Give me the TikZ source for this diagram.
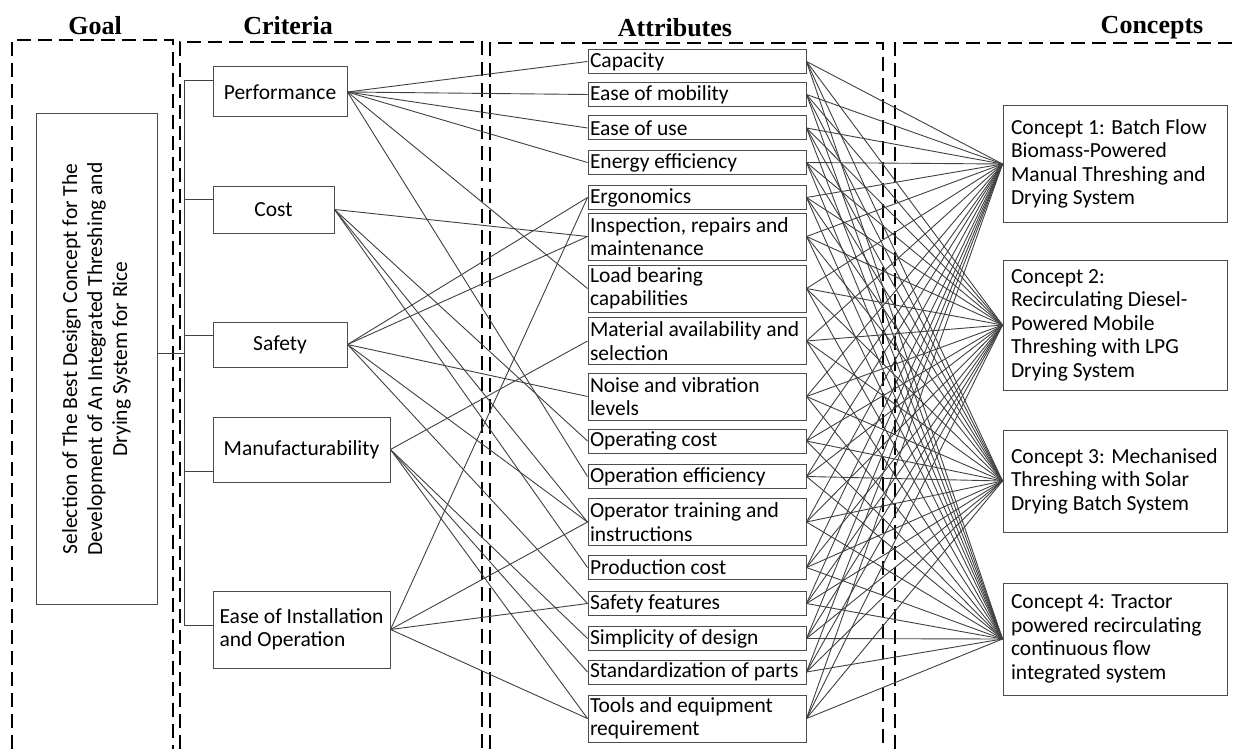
\documentclass[tikz,border=0pt]{standalone}
\usepackage{fontspec}
\setmainfont{Carlito}
\newfontfamily\headfont{Liberation Serif}
\begin{document}
\begin{tikzpicture}[x=1pt, y=-1pt,
    box/.style={rectangle, draw=black!70, line width=1pt, inner sep=1pt, font=\fontsize{21.5}{23.5}\selectfont},
    crit/.style={box, align=center},
    attr/.style={box, text width=214pt, align=flush left, inner xsep=2pt},
    concept/.style={box, text width=208pt, align=flush left, inner xsep=8pt},
    head/.style={font=\headfont\bfseries\fontsize{26}{28}\selectfont},
    frame/.style={line width=2.2pt, dash pattern=on 14pt off 7pt},
    link/.style={line width=0.9pt, black!75}
]
    \useasboundingbox (0,0) rectangle (1239,749);

    \node[head] (goalhead) at (95,26) {Goal};
    \node[head] (crithead) at (288,26) {Criteria};
    \node[head] (attrhead) at (675,28) {Attributes};
    \node[head] (conhead) at (1152,28) {Concepts};

    \draw[frame] (12,749) |- (173,40) -- (173,749);
    \draw[frame] (180,749) |- (482,42) -- (482,749);
    \draw[frame] (490,749) |- (883,43) -- (883,749);
    \draw[frame] (895,749) |- (1245,43);

    \node[box, rotate=90, minimum width=490pt, minimum height=121pt, align=center, font=\fontsize{21.5}{25}\selectfont] (goal) at (96.5,359) {Selection of The Best Design Concept for The\\Development of An Integrated Threshing and\\Drying System for Rice};

    \node[crit, minimum width=134pt, minimum height=50pt] (perf) at (280,92) {Performance};
    \node[crit, minimum width=121pt, minimum height=47pt] (cost) at (273.5,209.5) {Cost};
    \node[crit, minimum width=134pt, minimum height=45pt] (safety) at (280,344.5) {Safety};
    \node[crit, minimum width=177pt, minimum height=65pt] (manuf) at (301.5,449.5) {Manufacturability};
    \node[crit, minimum width=177pt, minimum height=77pt, align=left] (ease) at (301.5,629.5) {Ease of Installation\\and Operation};

    \node[attr, minimum height=24pt] (cap) at (697,61.5) {Capacity};
    \node[attr, minimum height=24pt] (mob) at (697,94.5) {Ease of mobility};
    \node[attr, minimum height=24pt] (use) at (697,128) {Ease of use};
    \node[attr, minimum height=24pt] (energy) at (697,162.5) {Energy efficiency};
    \node[attr, minimum height=24pt] (ergo) at (697,197.5) {Ergonomics};
    \node[attr, minimum height=47pt] (insp) at (697,236.5) {Inspection, repairs and\\maintenance};
    \node[attr, minimum height=47pt] (load) at (697,288.5) {Load bearing\\capabilities};
    \node[attr, minimum height=47pt] (mat) at (697,341) {Material availability and\\selection};
    \node[attr, minimum height=47pt] (noise) at (697,396.5) {Noise and vibration\\levels};
    \node[attr, minimum height=24pt] (opcost) at (697,441) {Operating cost};
    \node[attr, minimum height=24pt] (opeff) at (697,476.5) {Operation efficiency};
    \node[attr, minimum height=47pt] (train) at (697,522) {Operator training and\\instructions};
    \node[attr, minimum height=24pt] (prodcost) at (697,567.5) {Production cost};
    \node[attr, minimum height=24pt] (safefeat) at (697,603.5) {Safety features};
    \node[attr, minimum height=24pt] (simp) at (697,638.5) {Simplicity of design};
    \node[attr, minimum height=24pt] (stand) at (697,672) {Standardization of parts};
    \node[attr, minimum height=47pt] (tools) at (697,718.5) {Tools and equipment\\requirement};

    \node[concept, minimum height=116pt] (c1) at (1115,164) {Concept 1: Batch Flow\\Biomass-Powered\\Manual Threshing and\\Drying System};
    \node[concept, minimum height=130pt] (c2) at (1115,325) {Concept 2:\\Recirculating Diesel-\\Powered Mobile\\Threshing with LPG\\Drying System};
    \node[concept, minimum height=102pt] (c3) at (1115,481) {Concept 3: Mechanised\\Threshing with Solar\\Drying Batch System};
    \node[concept, minimum height=112pt] (c4) at (1115,639) {Concept 4: Tractor\\powered recirculating\\continuous flow\\integrated system};

    % goal to criteria
    \coordinate (gbus) at (185,353);
    \draw[link] ([yshift=12pt]perf.west) -- ++(-28,0) coordinate (bustop);
    \draw[link] ([yshift=10pt]cost.west) -- ++(-28,0);
    \draw[link] ([yshift=9pt]safety.west) -- ++(-28,0);
    \draw[link] ([yshift=-22pt]manuf.west) -- ++(-28,0);
    \draw[link] ([yshift=4pt]ease.west) -- ++(-28,0) coordinate (busbot);
    \draw[link] (bustop) -- (busbot);
    \draw[link] (goal.south |- gbus) -- (gbus);

    % criteria to attributes
    \foreach \a in {cap,mob,use,energy,load,opeff} \draw[link] (perf.east) -- (\a.west);
    \foreach \a in {insp,opcost,train,prodcost} \draw[link] (cost.east) -- (\a.west);
    \foreach \a in {ergo,insp,noise,train,safefeat} \draw[link] (safety.east) -- (\a.west);
    \foreach \a in {mat,simp,stand,tools} \draw[link] (manuf.east) -- (\a.west);
    \foreach \a in {ergo,train,safefeat,tools} \draw[link] (ease.east) -- (\a.west);

    % attributes to concepts
    \foreach \a in {cap,mob,use,energy,ergo,insp,load,mat,noise,opcost,opeff,train,prodcost,safefeat,simp,stand,tools}
        \foreach \c in {c1,c2,c3,c4}
            \draw[link] (\a.east) -- (\c.west);
\end{tikzpicture}
\end{document}
